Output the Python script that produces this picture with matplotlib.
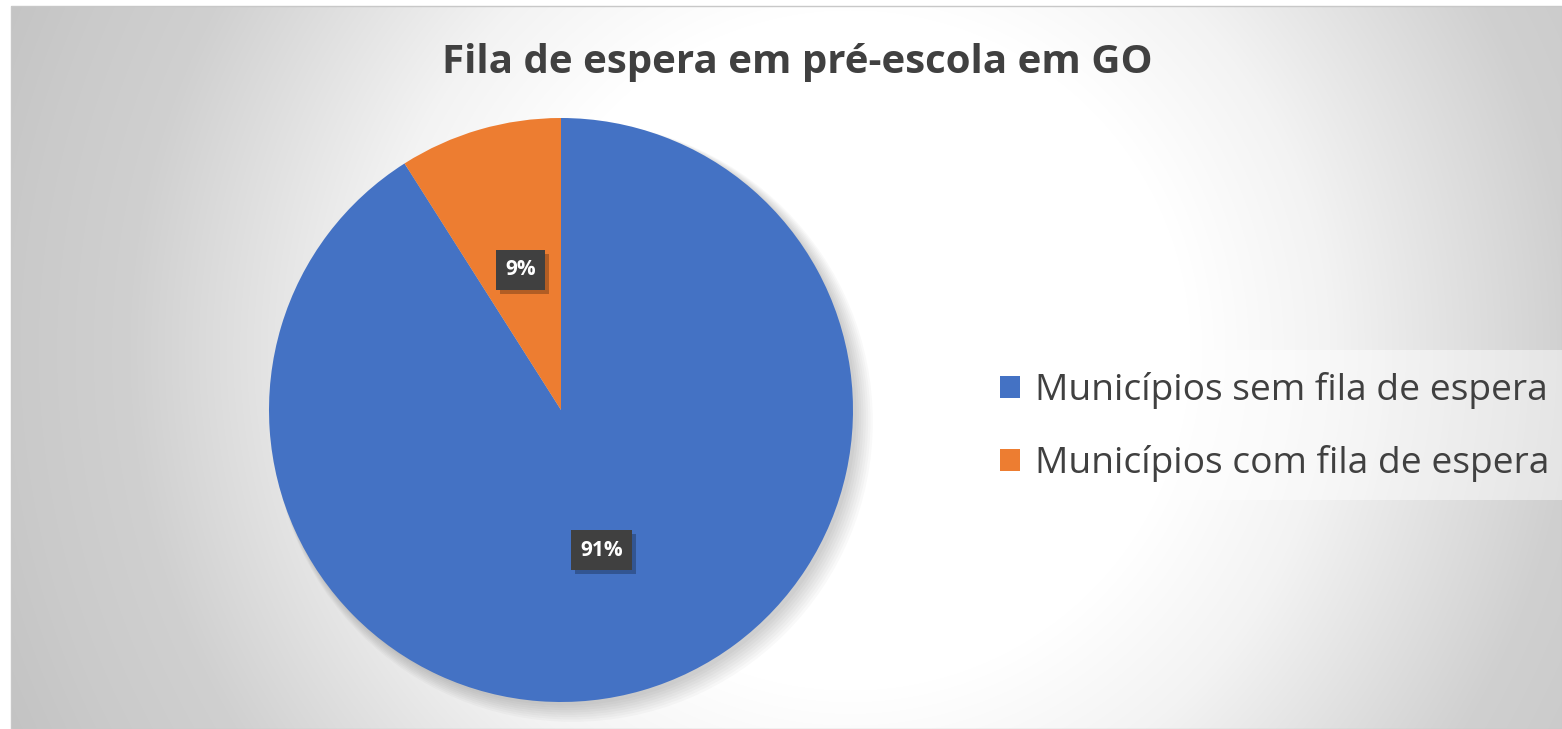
import numpy as np
import matplotlib
matplotlib.use("Agg")
from matplotlib import pyplot as plt
from matplotlib.patches import Rectangle, Circle

plt.rcParams['font.family'] = ['Open Sans', 'DejaVu Sans']

title = "Fila de espera em pré-escola em GO"
labels = ["Municípios sem fila de espera", "Municípios com fila de espera"]
values = [91, 9]
colors = ["#4472C4", "#ED7D31"]

W, H = 1562, 729
fig = plt.figure(figsize=(W / 100, H / 100), dpi=100)
fig.patch.set_facecolor("white")

# background: radial gray gradient of the chart area
bg = fig.add_axes([11 / W, 0, 1 - 11 / W, (H - 6) / H])
yy, xx = np.mgrid[6:H, 11:W]
d = np.hypot(xx - 850, yy - 350)
g = np.interp(d, [0, 340, 480, 720, 830, 910, 1200],
              [255, 255, 243, 208, 202, 196, 192]) / 255
bg.imshow(np.dstack([g, g, g]), aspect="auto", interpolation="bilinear")
bg.set_axis_off()
fig.add_artist(Rectangle((11 / W, 0), 1 - 11 / W, (H - 6) / H, transform=fig.transFigure,
                         fill=False, edgecolor="#c8c8c8", linewidth=1.0))

fig.text(797 / W, 1 - 63 / H, title, ha="center", va="center", fontsize=29,
         fontweight="bold", color="#404040")

# pie
cx, cy, r = 561, 410, 292
ax = fig.add_axes([(cx - r) / W, (H - cy - r) / H, 2 * r / W, 2 * r / H])
for k in range(8):
    ax.add_patch(Circle((0.012 + 0.004 * k, -0.012 - 0.004 * k), 1.0 + 0.004 * k,
                        facecolor="black", alpha=0.025, linewidth=0, clip_on=False))
wedges, texts, autotexts = ax.pie(values, colors=colors, startangle=90, counterclock=False,
                                  radius=1.0, autopct="%.0f%%", pctdistance=0.5,
                                  wedgeprops=dict(linewidth=0),
                                  textprops=dict(color="white", fontsize=15, fontweight="bold"))
ax.set_xlim(-1, 1)
ax.set_ylim(-1, 1)
for t in autotexts:
    t.set_zorder(3)
    t.set_bbox(dict(boxstyle="square,pad=0.45", facecolor="#404040", edgecolor="none"))

# legend
fig.add_artist(Rectangle((963 / W, 1 - 500 / H), (W - 963) / W, 150 / H, transform=fig.transFigure,
                         facecolor="white", alpha=0.45, edgecolor="none"))
fig.legend(wedges, labels, loc="center left", bbox_to_anchor=(1000 / W, 1 - 427 / H),
           frameon=False, fontsize=26.7, handlelength=0.54, handleheight=0.54,
           handletextpad=0.4, labelspacing=0.98, borderpad=0, borderaxespad=0,
           labelcolor="#404040")

# shadows behind the data label boxes
fig.canvas.draw()
ren = fig.canvas.get_renderer()
inv = fig.transFigure.inverted()
for t in autotexts:
    ext = t.get_bbox_patch().get_window_extent(ren)
    (x0, y0), (x1, y1) = inv.transform([[ext.x0 + 4, ext.y0 - 4], [ext.x1 + 4, ext.y1 - 4]])
    ax.add_patch(Rectangle((x0, y0), x1 - x0, y1 - y0, transform=fig.transFigure,
                           facecolor="black", alpha=0.25, edgecolor="none", zorder=2.5,
                           clip_on=False))

fig.savefig("out.png", dpi=100)
